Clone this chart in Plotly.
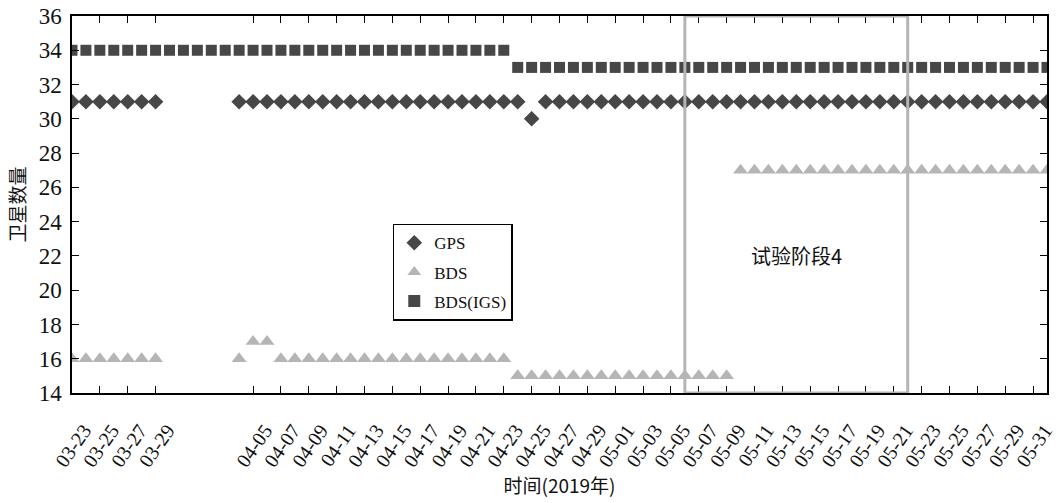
import pandas as pd
import plotly.graph_objects as go

# Daily observation dates, 2019-03-23 .. 2019-06-01
dates = pd.date_range("2019-03-23", "2019-06-01", freq="D")

# Visible satellite counts per day (None = no observation that day)
gps = [31, 31, 31, 31, 31, 31, 31,
       None, None, None, None, None,
       31, 31, 31, 31, 31, 31, 31, 31, 31, 31, 31, 31, 31, 31, 31, 31, 31, 31, 31, 31, 31,
       30,
       31, 31, 31, 31, 31, 31, 31, 31, 31, 31, 31, 31, 31, 31, 31, 31, 31, 31, 31, 31, 31,
       31, 31, 31, 31, 31, 31, 31, 31, 31, 31, 31, 31, 31, 31, 31, 31]

bds = [16, 16, 16, 16, 16, 16, 16,
       None, None, None, None, None,
       16, 17, 17,
       16, 16, 16, 16, 16, 16, 16, 16, 16, 16, 16, 16, 16, 16, 16, 16, 16,
       15, 15, 15, 15, 15, 15, 15, 15, 15, 15, 15, 15, 15, 15, 15, 15,
       27, 27, 27, 27, 27, 27, 27, 27, 27, 27, 27, 27, 27, 27, 27, 27, 27, 27, 27, 27, 27,
       27, 27]

bds_igs = [34, 34, 34, 34, 34, 34, 34, 34, 34, 34, 34, 34, 34, 34, 34, 34,
           34, 34, 34, 34, 34, 34, 34, 34, 34, 34, 34, 34, 34, 34, 34, 34,
           33, 33, 33, 33, 33, 33, 33, 33, 33, 33, 33, 33, 33, 33, 33, 33, 33, 33, 33, 33,
           33, 33, 33, 33, 33, 33, 33, 33, 33, 33, 33, 33, 33, 33, 33, 33, 33, 33, 33]

# Tick dates (odd days inside the observed spans)
tick_dates = (["2019-03-%02d" % d for d in (23, 25, 27, 29)]
              + ["2019-04-%02d" % d for d in range(5, 30, 2)]
              + ["2019-05-%02d" % d for d in range(1, 32, 2)])
tick_text = [d[5:] for d in tick_dates]

# Trial phase 4 window
phase_start, phase_end = "2019-05-06", "2019-05-22"
phase_label = "试验阶段4"

dark = "#474747"
light = "#b5b5b5"
serif = "Liberation Serif"
cjk = "Noto Sans CJK SC"

fig = go.Figure()
fig.add_trace(go.Scatter(x=dates, y=gps, mode="markers", name="GPS", legendgroup="a",
                         marker=dict(symbol="diamond", size=12, color=dark)))
fig.add_trace(go.Scatter(x=dates, y=bds, mode="markers", name="BDS", legendgroup="b",
                         marker=dict(symbol="triangle-up", size=13, color=light)))
fig.add_trace(go.Scatter(x=dates, y=bds_igs, mode="markers", name="BDS(IGS)", legendgroup="c",
                         marker=dict(symbol="square", size=11, color=dark)))

fig.add_shape(type="rect", xref="x", yref="y", x0=phase_start, x1=phase_end, y0=14, y1=36,
              line=dict(color=light, width=3), layer="above")
fig.add_annotation(x="2019-05-14", y=22, text=phase_label, showarrow=False,
                   font=dict(family=cjk, size=20, color="#111"))

fig.update_layout(
    width=1059, height=503,
    margin=dict(l=72, r=12, t=16, b=110),
    plot_bgcolor="white", paper_bgcolor="white",
    showlegend=True,
    legend=dict(x=0.329, y=0.449, xanchor="left", yanchor="top",
                bgcolor="white", bordercolor="black", borderwidth=1.5,
                font=dict(family=serif, size=17, color="#111"),
                tracegroupgap=4, itemsizing="constant"),
    xaxis=dict(range=["2019-03-23", "2019-06-01"], tickmode="array",
               tickvals=tick_dates, ticktext=tick_text, tickangle=-55,
               ticks="inside", ticklen=7, tickcolor="black", tickwidth=1,
               ticklabelshift=12, ticklabelstandoff=16,
               showline=True, linecolor="black", linewidth=1.5, mirror="ticks",
               showgrid=False, zeroline=False, automargin=False,
               tickfont=dict(family=serif, size=20, color="#111"),
               title=dict(text="时间(2019年)", font=dict(family=cjk, size=19, color="#111"),
                          standoff=8)),
    yaxis=dict(range=[14, 36], tickmode="array", tickvals=list(range(14, 37, 2)),
               ticks="inside", ticklen=7, tickcolor="black", tickwidth=1,
               ticklabelstandoff=4,
               showline=True, linecolor="black", linewidth=1.5, mirror="ticks",
               showgrid=False, zeroline=False, automargin=False,
               tickfont=dict(family=serif, size=23, color="#111"),
               title=dict(text="卫星数量", font=dict(family=cjk, size=19, color="#111"),
                          standoff=8)),
)

fig.write_html("out.html")
